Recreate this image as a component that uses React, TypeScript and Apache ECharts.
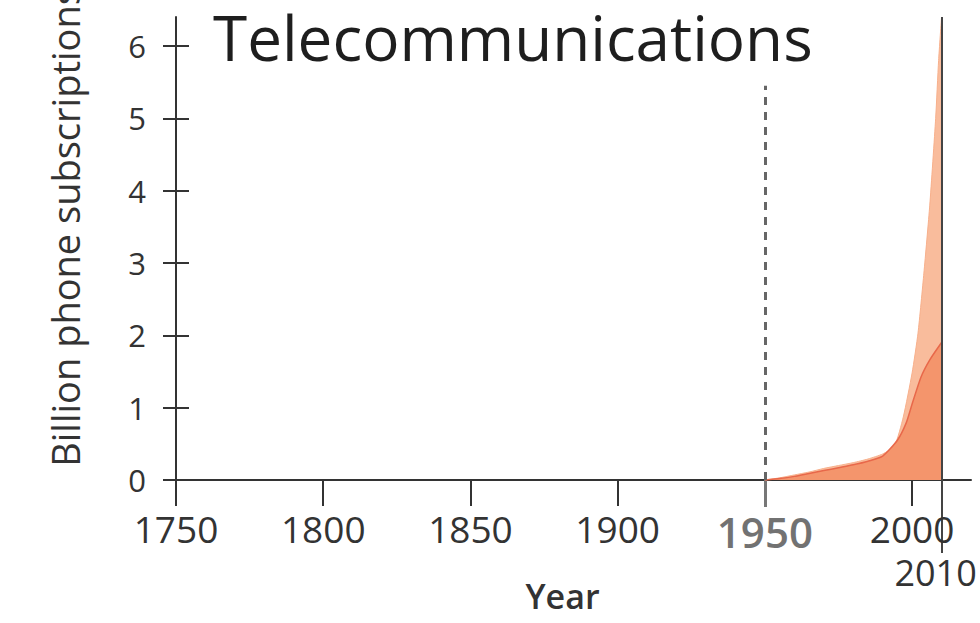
import React, { useEffect, useRef } from "react";
import * as echarts from "echarts";

const title = "Telecommunications";
const yName = "Billion phone subscriptions";
const xName = "Year";

const xLabelValues = [1750, 1800, 1850, 1900, 1950, 2000];
const xTickValues = [1750, 1800, 1850, 1900, 2000];
const endValues = [2010];
const yTickValues = [0, 1, 2, 3, 4, 5, 6];

// Total phone subscriptions (light area)
const totalYears = [1950, 1955, 1960, 1965, 1970, 1975, 1980, 1985, 1990, 1994, 1997, 2000, 2002, 2004, 2006, 2008, 2009, 2010];
const totalValues = [0, 0.03, 0.07, 0.11, 0.16, 0.2, 0.24, 0.29, 0.36, 0.47, 0.87, 1.48, 2.03, 2.86, 3.8, 5.0, 5.8, 6.4];

// Darker inner area
const innerYears = [1950, 1955, 1960, 1965, 1970, 1975, 1980, 1985, 1990, 1995, 1998, 2000, 2003, 2006, 2010];
const innerValues = [0, 0.02, 0.05, 0.09, 0.13, 0.17, 0.21, 0.26, 0.33, 0.55, 0.79, 1.05, 1.42, 1.66, 1.9];

const FONT = "Open Sans";

export default function App() {
  const ref = useRef<HTMLDivElement>(null);
  useEffect(() => {
    if (!ref.current) return;
    const chart = echarts.init(ref.current, null, { renderer: "svg" });
    const axisColor = "#333";
    chart.setOption({
      animation: false,
      backgroundColor: "#ffffff",
      title: {
        text: title,
        left: 213,
        top: 6,
        padding: 0,
        textStyle: { fontFamily: FONT, fontSize: 62, fontWeight: "normal", color: "#1e1e1e" },
      },
      grid: { left: 176, right: 9, top: 17, bottom: 143, outerBoundsMode: "none", containLabel: false },
      xAxis: [
        {
          type: "value",
          min: 1750,
          max: 2020,
          interval: 50,
          name: xName,
          nameLocation: "middle",
          nameGap: 99,
          nameTextStyle: { fontFamily: FONT, fontSize: 34, fontWeight: 600, color: "#333", padding: [0, 22, 0, 0] },
          axisLine: { show: true, lineStyle: { color: axisColor, width: 2 } },
          axisTick: { show: true, length: 26, customValues: xTickValues, lineStyle: { color: axisColor, width: 2 } },
          axisLabel: {
            customValues: xLabelValues,
            margin: 30,
            fontFamily: FONT,
            fontSize: 37,
            color: "#333",
            formatter: (v: number) => (v === 1950 ? "{h|1950}" : String(v)),
            rich: {
              h: { fontFamily: FONT, fontSize: 42, fontWeight: 600, color: "#727272" },
            },
          },
          splitLine: { show: false },
        },
        {
          type: "value",
          min: 1750,
          max: 2020,
          interval: 50,
          position: "bottom",
          offset: 0,
          axisLine: { show: false },
          axisLabel: {
            show: true,
            customValues: endValues,
            margin: 74,
            fontFamily: FONT,
            fontSize: 36,
            color: "#333",
            padding: [0, 12, 0, 0],
            formatter: (v: number) => String(v),
          },
          axisTick: { show: true, length: 73, customValues: endValues, lineStyle: { color: "#444", width: 2 } },
          splitLine: { show: false },
        },
        {
          type: "value",
          min: 1750,
          max: 2020,
          interval: 50,
          position: "bottom",
          offset: 0,
          axisLine: { show: false },
          axisLabel: { show: false },
          axisTick: { show: true, length: 27, customValues: [1950], lineStyle: { color: "#777", width: 3 } },
          splitLine: { show: false },
        },
      ],
      yAxis: [
        {
          type: "value",
          min: 0,
          max: 6.4,
          interval: 1,
          name: yName,
          nameLocation: "middle",
          nameRotate: 90,
          nameGap: 92,
          nameTextStyle: { fontFamily: FONT, fontSize: 38, color: "#333", padding: [0, 0, 0, 43] },
          axisLine: { show: true, lineStyle: { color: axisColor, width: 2 } },
          axisTick: { show: true, length: 13, customValues: yTickValues, lineStyle: { color: axisColor, width: 2 } },
          axisLabel: { customValues: yTickValues, margin: 30, fontFamily: FONT, fontSize: 31, color: "#333" },
          splitLine: { show: false },
        },
        {
          type: "value",
          min: 0,
          max: 6.4,
          interval: 1,
          position: "left",
          offset: 0,
          axisLine: { show: false },
          axisLabel: { show: false },
          axisTick: { show: true, inside: true, length: 13, customValues: yTickValues, lineStyle: { color: axisColor, width: 2 } },
          splitLine: { show: false },
        },
      ],
      series: [
        {
          name: "Total",
          type: "line",
          xAxisIndex: 0,
          yAxisIndex: 0,
          data: totalYears.map((y, i) => [y, totalValues[i]]),
          smooth: 0.2,
          showSymbol: false,
          lineStyle: { width: 1, color: "#f7b08c" },
          areaStyle: { color: "#f9bc9c", opacity: 1 },
          z: 2,
          markLine: {
            silent: true,
            symbol: "none",
            label: { show: false },
            data: [
              [
                { coord: [1950, 0], lineStyle: { color: "#666", width: 3, type: [8, 7] } },
                { coord: [1950, 5.45] },
              ],
              [
                { coord: [2010, 0], lineStyle: { color: "#444", width: 2, type: "solid" } },
                { coord: [2010, 6.4] },
              ],
            ],
          },
        },
        {
          name: "Inner",
          type: "line",
          xAxisIndex: 0,
          yAxisIndex: 0,
          data: innerYears.map((y, i) => [y, innerValues[i]]),
          smooth: 0.2,
          showSymbol: false,
          lineStyle: { width: 1.5, color: "#e8684a" },
          areaStyle: { color: "#f4956c", opacity: 1 },
          z: 3,
        },
      ],
    });
    return () => chart.dispose();
  }, []);
  return <div ref={ref} style={{ width: 980, height: 623, position: "absolute", left: 0, top: 0 }} />;
}
